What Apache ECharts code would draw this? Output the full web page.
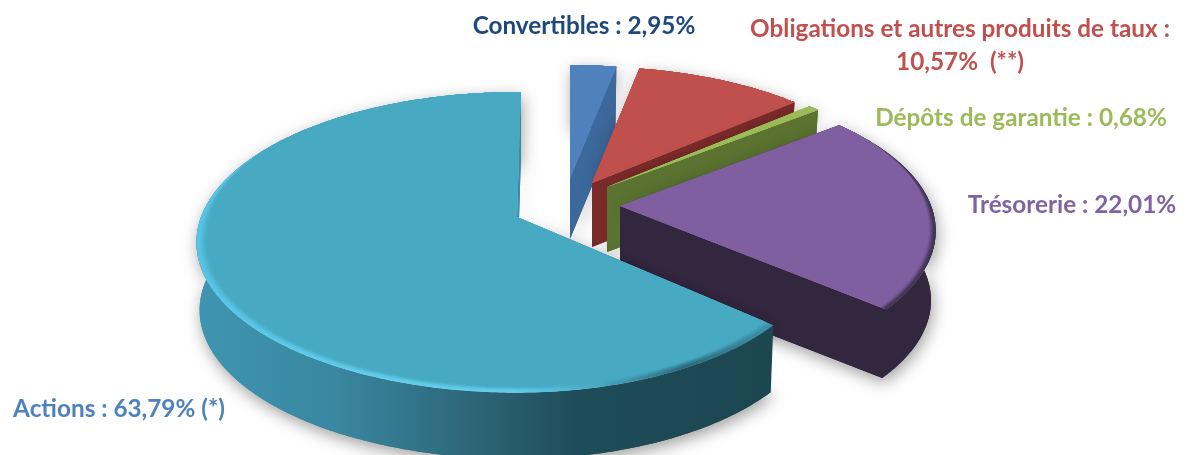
<!DOCTYPE html>
<html>
<head>
<meta charset="utf-8">
<style>html,body{margin:0;padding:0;background:#fff}#chart{width:1186px;height:455px}</style>
<script src="https://cdn.jsdelivr.net/npm/echarts@6/dist/echarts.min.js"></script>
</head>
<body>
<div id="chart"></div>
<script>
// Portfolio breakdown, in percent, clockwise from twelve o'clock
const categories = ['Convertibles', 'Obligations et autres produits de taux', 'Dépôts de garantie', 'Trésorerie', 'Actions'];
const values = [2.95, 10.57, 0.68, 22.01, 63.79];
const labelTexts = ['Convertibles : 2,95%', 'Obligations et autres produits de taux :\n10,57%  (**)', 'Dépôts de garantie : 0,68%', 'Trésorerie : 22,01%', 'Actions : 63,79% (*)'];

// Layout of the exploded disc
const RX = 316, RY = 146, PERSPECTIVE = 0.169;
const apexes = [[570, 178], [592, 183], [607, 187], [620, 206], [517, 217]];
const scales = [0.905, 0.93, 0.93, 0.975, 1];
const rightScales = [1.025, 1.02, 1.02, 1.01, 0.958];
const turns = [0, 0, 0, 0, 0.84];
const depths = [61, 64, 65, 70, 68];
const floorScales = [0.98, 0.98, 0.98, 0.985, 0.99];
const labelAnchors = [[584, 26], [960, 46], [1021, 118], [1072, 205], [119, 409]];

// Colours per slice
const faceColors = ['#4F81BD', '#C0504D', '#9BBB59', '#7F5F9F', '#48A9C3'];
const wallColors = ['#3C689B', '#7A2B29', '#5A7330', '#33263F', '#1C4650'];
const labelColors = ['#1F497D', '#C0504D', '#9BBB59', '#8064A2', '#4F81BD'];

const total = values.reduce((a, b) => a + b, 0);
const starts = [];
values.reduce((acc, v, i) => { starts[i] = acc; return acc + v; }, 0);

function rad(pct, i) { return (pct / total * 360 + turns[i]) * Math.PI / 180; }

// Perspective projection of a disc point, relative to the slice apex
function project(theta, r, i) {
  const u = Math.sin(theta) * r, v = -Math.cos(theta) * r;
  const w = 1 - PERSPECTIVE * v;
  const k = scales[i] * (u > 0 ? rightScales[i] : 1);
  return [RX * u / w * k, RY * v / w * scales[i]];
}
function topPoint(theta, r, i) {
  const p = project(theta, r, i);
  return [apexes[i][0] + p[0], apexes[i][1] + p[1]];
}
function floorPoint(theta, r, i) {
  const p = project(theta, r, i), s = floorScales[i];
  return [apexes[i][0] + p[0] * s, apexes[i][1] + p[1] * s + depths[i]];
}
function arc(fn, a0, a1, i, rFn) {
  const n = Math.max(2, Math.ceil(Math.abs(a1 - a0) / 0.012));
  const pts = [];
  for (let k = 0; k <= n; k++) {
    const t = a0 + (a1 - a0) * k / n;
    pts.push(fn(t, rFn ? rFn(t) : 1, i));
  }
  return pts;
}
// Bevel width shrinks to nothing towards the back of the disc
function bevel(theta) {
  const v = -Math.cos(theta);
  return Math.max(0, Math.min(1, (v + 0.55) / 0.6));
}
function wallFill(i) {
  if (i === 4) {
    return new echarts.graphic.LinearGradient(196, 0, 773, 0, [
      { offset: 0, color: '#3F95B1' },
      { offset: 0.25, color: '#39869F' },
      { offset: 0.5, color: '#2C6374' },
      { offset: 0.66, color: '#1F4C5A' },
      { offset: 1, color: '#1C4650' }
    ], true);
  }
  return wallColors[i];
}
function rimFill(i) {
  if (i === 4) {
    return new echarts.graphic.LinearGradient(196, 0, 773, 0, [
      { offset: 0, color: '#57C3E6' },
      { offset: 0.3, color: '#62CDEB' },
      { offset: 0.55, color: '#62CDEB' },
      { offset: 0.7, color: '#48A9C3' },
      { offset: 0.85, color: '#2A6B7C' },
      { offset: 1, color: '#3E93A9' }
    ], true);
  }
  return i === 3 ? '#43355A' : faceColors[i];
}

function renderSlice(params, api) {
  const i = params.dataIndex;
  const a0 = rad(starts[i], i), a1 = rad(starts[i] + api.value(0), i);
  const children = [];
  const topArc = arc(topPoint, a0, a1, i);
  const floorArc = arc(floorPoint, a0, a1, i);
  const apexTop = apexes[i];
  const apexFloor = [apexes[i][0], apexes[i][1] + depths[i]];
  const cutFace = a => ({
    type: 'polygon',
    shape: { points: [apexTop, topPoint(a, 1, i), floorPoint(a, 1, i), apexFloor] },
    style: { fill: i === 4 ? '#3C8CA3' : wallColors[i] }
  });

  // Body silhouette, carrying the soft drop shadow
  children.push({
    type: 'polygon',
    shape: { points: [apexTop].concat(topArc, [apexFloor], floorArc.slice().reverse()) },
    style: { fill: wallFill(i), shadowBlur: 16, shadowColor: 'rgba(0,0,0,0.38)', shadowOffsetX: 2, shadowOffsetY: 5 }
  });
  // Outer wall, with the closing cut face over it
  children.push({
    type: 'polygon',
    shape: { points: topArc.concat(floorArc.slice().reverse()) },
    style: { fill: wallFill(i) }
  });
  children.push(cutFace(a1));
  // Top face: rim colour first, then nested fills fading into the face colour
  children.push({
    type: 'polygon',
    shape: { points: [apexTop].concat(topArc) },
    style: { fill: rimFill(i) }
  });
  const steps = [[0.35, 0.22], [0.55, 0.42], [0.75, 0.62], [0.9, 0.82], [1, 1]];
  const width = i === 4 ? 0.032 : 0.022;
  steps.forEach(([t, op]) => {
    const rFn = th => 1 - width * t * bevel(th);
    children.push({
      type: 'polygon',
      shape: { points: [apexTop].concat(arc(topPoint, a0, a1, i, rFn)) },
      style: { fill: faceColors[i], opacity: op }
    });
  });
  // Label
  children.push({
    type: 'text',
    style: {
      text: labelTexts[i],
      x: labelAnchors[i][0], y: labelAnchors[i][1],
      align: 'center', verticalAlign: 'middle',
      fill: labelColors[i],
      fontFamily: 'Lato', fontWeight: 'bold', fontSize: 24.3, lineHeight: 33
    }
  });
  return { type: 'group', children };
}

const chart = echarts.init(document.getElementById('chart'), null, { renderer: 'canvas' });
chart.setOption({
  animation: false,
  backgroundColor: '#ffffff',
  series: [{
    type: 'custom',
    coordinateSystem: 'none',
    renderItem: renderSlice,
    data: categories.map((name, i) => ({ name, value: [values[i]] }))
  }]
});
</script>
</body>
</html>
